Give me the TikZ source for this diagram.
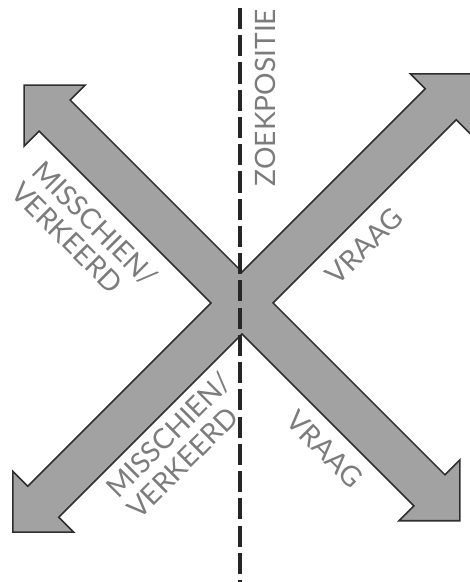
\documentclass[tikz,border=0pt]{standalone}
\usepackage{fontspec}
\setmainfont{Lato}
\usepackage{tikz}
\usetikzlibrary{calc}
\definecolor{pgrijs}{HTML}{A2A2A2}
\definecolor{prand}{HTML}{2E2E2E}
\definecolor{ptekst}{HTML}{7C7C7C}
\tikzset{
  ppijl/.style={fill=pgrijs, draw=prand, line width=0.9pt, line join=miter},
  plijn/.style={black!85, line width=2pt, dash pattern=on 12pt off 3.5pt},
  ptxt/.style={ptekst, font=\fontsize{16}{17}\selectfont, inner sep=0pt, align=left},
}

\begin{document}
\begin{tikzpicture}[x=1cm,y=1cm]

  \def\w{0.44}  % halve breedte schacht
  \def\h{0.86}  % lengte punt
  \def\H{0.86}  % halve breedte punt
  \def\La{6.16} % pijlen NW en ZO
  \def\Lb{6.48} % pijlen NO en ZW

  \useasboundingbox (-4.84,-5.58) rectangle (4.54,6.06);

  % kruis van vier pijlen
  \draw[ppijl] ([rotate=45]2,\w)
    \foreach \a/\L in {135/\La, 225/\Lb, 315/\La, 45/\Lb} {
      -- ({\a-45}:{\w*sqrt(2)})
      -- ([rotate=\a]{\L-\h},-\w) -- ([rotate=\a]{\L-\h},-\H) -- ([rotate=\a]\L,0)
      -- ([rotate=\a]{\L-\h},\H) -- ([rotate=\a]{\L-\h},\w)
    } -- cycle;

  % zoekpositie
  \coordinate (zboven) at (-0.04,5.9);
  \coordinate (zonder) at (-0.04,-5.6);
  \draw[plijn] (zboven) -- (zonder);

  % labels
  \node[ptxt, rotate=90] (zoek) at (0.46,4.11) {ZOEKPOSITIE};
  \node[ptxt, rotate=45] (vraagb) at (2.44,1.14) {VRAAG};
  \node[ptxt, rotate=-45] (twijfelb) at (-3.14,1.38) {MISSCHIEN/\\VERKEERD};
  \node[ptxt, rotate=45] (twijfelo) at (-1.26,-2.84) {MISSCHIEN/\\VERKEERD};
  \node[ptxt, rotate=-45] (vraago) at (1.66,-2.92) {VRAAG};

\end{tikzpicture}
\end{document}
